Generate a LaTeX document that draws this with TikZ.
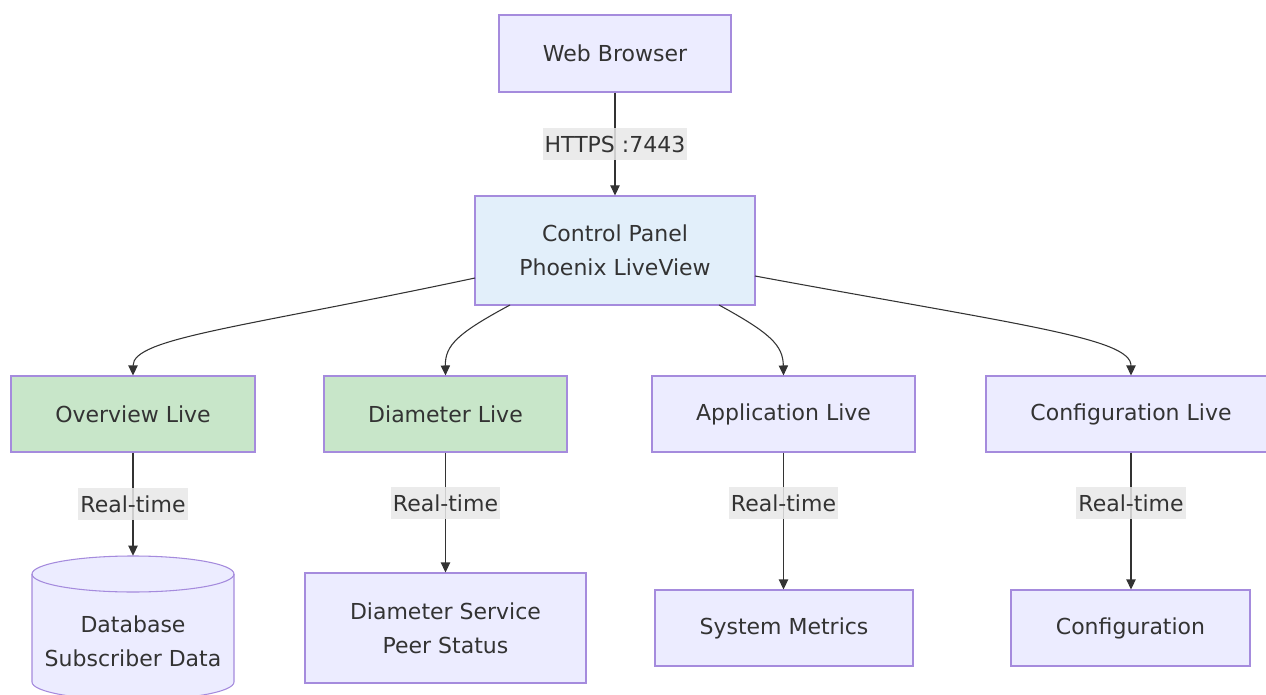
\documentclass[tikz,border=0pt]{standalone}
\usepackage{fontspec}
\setmainfont{DejaVu Sans}
\usetikzlibrary{arrows.meta}
\definecolor{boxfill}{HTML}{ECECFF}
\definecolor{boxline}{HTML}{A58BDD}
\definecolor{greenfill}{HTML}{C8E6C9}
\definecolor{bluefill}{HTML}{E2EFFA}
\definecolor{edgecol}{HTML}{333333}
\definecolor{txt}{HTML}{333333}
\definecolor{lblbg}{HTML}{E8E8E8}
\tikzset{
  box/.style={draw=boxline, line width=0.8pt, fill=boxfill, text=txt, align=center,
    inner sep=0pt, font=\fontsize{16.5}{25.5}\selectfont},
  greenbox/.style={box, fill=greenfill},
  bluebox/.style={box, fill=bluefill},
  conn/.style={draw=edgecol, line width=0.8pt, -{Triangle[length=7.5pt,width=7pt]}},
  elabel/.style={fill=lblbg, fill opacity=0.85, text opacity=1, text=txt,
    font=\fontsize{16.5}{20}\selectfont, inner xsep=1.5pt, inner ysep=0pt,
    minimum height=24pt}
}
\begin{document}
\begin{tikzpicture}[x=0.75pt,y=-0.75pt]
\useasboundingbox (0,0) rectangle (1266,695);
\clip (0,0) rectangle (1266,695);
\fill[white] (0,0) rectangle (1266,695);

% top
\node[box, minimum width=174pt, minimum height=57.75pt] (web) at (615,53.5) {Web Browser};
\node[bluebox, minimum width=210pt, minimum height=81.75pt] (cp) at (615,250.5) {Control Panel\\Phoenix LiveView};

% middle row
\node[greenbox, minimum width=183pt, minimum height=57pt] (ov) at (133,414) {Overview Live};
\node[greenbox, minimum width=182.25pt, minimum height=57pt] (dl) at (445.5,414) {Diameter Live};
\node[box, minimum width=197.25pt, minimum height=57pt] (al) at (783.5,414) {Application Live};
\node[box, minimum width=217.5pt, minimum height=57pt] (cl) at (1131,414) {Configuration Live};

% bottom row: cylinder
\node[inner sep=0pt, minimum width=151.5pt, minimum height=108pt] (db) at (133,628) {};
\draw[boxline, line width=0.8pt, fill=boxfill]
  (32,574) -- (32,682) arc[start angle=180, end angle=0, x radius=101, y radius=18]
  -- (234,574) arc[start angle=0, end angle=-180, x radius=101, y radius=18] -- cycle;
\draw[boxline, line width=0.8pt]
  (32,574) arc[start angle=180, end angle=0, x radius=101, y radius=18];
\node[text=txt, align=center, font=\fontsize{16.5}{25.5}\selectfont] (dbtext) at (133,641) {Database\\Subscriber Data};

\node[box, minimum width=210.75pt, minimum height=82.5pt] (ds) at (445.5,628) {Diameter Service\\Peer Status};
\node[box, minimum width=193.5pt, minimum height=57pt] (sm) at (784,628) {System Metrics};
\node[box, minimum width=179.25pt, minimum height=57pt] (cf) at (1130.5,628) {Configuration};

% connectors
\draw[conn] (web) -- node[elabel] {HTTPS :7443} (cp);

\coordinate (cpl) at (475,278);
\coordinate (cpdl) at (510,305);
\coordinate (cpal) at (719,305);
\coordinate (cpr) at (755,276);

\draw[conn] (cpl) .. controls (240,328) and (133,338) .. (ov.north);
\draw[conn] (cpdl) .. controls (458,333) and (445,345) .. (dl.north);
\draw[conn] (cpal) .. controls (770,333) and (783,345) .. (al.north);
\draw[conn] (cpr) .. controls (1020,325) and (1131,338) .. (cl.north);

\draw[conn] (ov) -- node[elabel] {Real-time} (db.north);
\draw[conn] (dl) -- node[elabel, pos=0.42] {Real-time} (ds);
\draw[conn] (al.south) -- node[elabel, pos=0.37] {Real-time} (sm.north -| al.south);
\draw[conn] (cl.south) -- node[elabel, pos=0.37] {Real-time} (cf.north -| cl.south);
\end{tikzpicture}
\end{document}
